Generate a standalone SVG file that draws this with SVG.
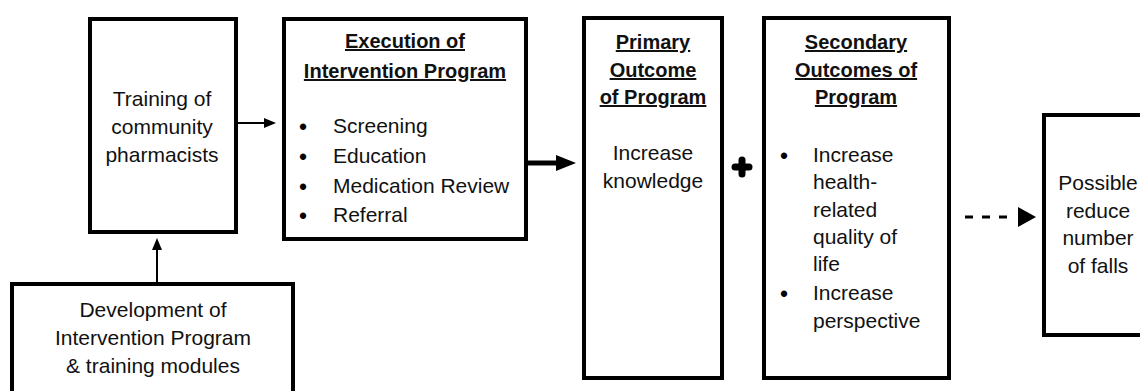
<svg xmlns="http://www.w3.org/2000/svg" width="1140" height="391" viewBox="0 0 1140 391">
  <style>
    .box { fill: #fff; stroke: #000; stroke-width: 4; }
    .t { font-family: "Liberation Sans", Arial, sans-serif; font-size: 21px; fill: #111; }
    .c { text-anchor: middle; }
    .h { font-weight: bold; font-size: 20px; text-decoration: underline; }
    .b { font-family: "Liberation Sans", Arial, sans-serif; font-size: 23px; fill: #000; text-anchor: middle; }
    .ln { stroke: #000; fill: none; }
  </style>
  <defs>
    <marker id="headThin" markerUnits="userSpaceOnUse" markerWidth="12" markerHeight="10" refX="0" refY="5" orient="auto" overflow="visible">
      <path d="M0,0 L12,5 L0,10 z" fill="#000"/>
    </marker>
    <marker id="headThick" markerUnits="userSpaceOnUse" markerWidth="20" markerHeight="16" refX="0" refY="8" orient="auto" overflow="visible">
      <path d="M0,0 L20,8 L0,16 z" fill="#000"/>
    </marker>
    <marker id="headDash" markerUnits="userSpaceOnUse" markerWidth="26" markerHeight="20" refX="0" refY="10" orient="auto" overflow="visible">
      <path d="M8,0 L26,10 L8,20 z" fill="#000"/>
    </marker>
  </defs>
  <rect width="1140" height="391" fill="#fff"/>

  <g id="connectors">
    <line class="ln" x1="238" y1="123" x2="264" y2="123" stroke-width="2" marker-end="url(#headThin)"/>
    <line class="ln" x1="157" y1="282" x2="157" y2="250" stroke-width="2" marker-end="url(#headThin)"/>
    <line class="ln" x1="528" y1="163" x2="556" y2="163" stroke-width="5" marker-end="url(#headThick)"/>
    <line class="ln" x1="965" y1="217" x2="1010" y2="217" stroke-width="3" stroke-dasharray="8 9" marker-end="url(#headDash)"/>
    <g id="plus" stroke="#000" stroke-width="7" stroke-linecap="round">
      <line x1="735" y1="167" x2="749" y2="167"/>
      <line x1="742" y1="160" x2="742" y2="174"/>
    </g>
  </g>

  <g id="training">
    <rect class="box" x="90" y="19" width="146" height="213"/>
    <text class="t c" x="162" y="106">Training of</text>
    <text class="t c" x="162" y="134">community</text>
    <text class="t c" x="162" y="162">pharmacists</text>
  </g>

  <g id="development">
    <rect class="box" x="12" y="284" width="281" height="120"/>
    <text class="t c" x="153" y="317">Development of</text>
    <text class="t c" x="153" y="345">Intervention Program</text>
    <text class="t c" x="153" y="373">&amp; training modules</text>
  </g>

  <g id="execution">
    <rect class="box" x="284" y="19" width="242" height="220"/>
    <text class="t c h" x="405" y="48">Execution of</text>
    <text class="t c h" x="405" y="78">Intervention Program</text>
    <text class="b" x="303" y="135">•</text>
    <text class="t" x="333" y="133">Screening</text>
    <text class="b" x="303" y="165">•</text>
    <text class="t" x="333" y="163">Education</text>
    <text class="b" x="303" y="195">•</text>
    <text class="t" x="333" y="193">Medication Review</text>
    <text class="b" x="303" y="224">•</text>
    <text class="t" x="333" y="222">Referral</text>
  </g>

  <g id="primary">
    <rect class="box" x="584" y="18" width="138" height="360"/>
    <text class="t c h" x="653" y="49">Primary</text>
    <text class="t c h" x="653" y="77">Outcome</text>
    <text class="t c h" x="653" y="104">of Program</text>
    <text class="t c" x="653" y="160">Increase</text>
    <text class="t c" x="653" y="188">knowledge</text>
  </g>

  <g id="secondary">
    <rect class="box" x="764" y="18" width="185" height="360"/>
    <text class="t c h" x="856" y="49">Secondary</text>
    <text class="t c h" x="856" y="77">Outcomes of</text>
    <text class="t c h" x="856" y="104">Program</text>
    <text class="b" x="784" y="164">•</text>
    <text class="t" x="813" y="162">Increase</text>
    <text class="t" x="813" y="189">health-</text>
    <text class="t" x="813" y="217">related</text>
    <text class="t" x="813" y="244">quality of</text>
    <text class="t" x="813" y="271">life</text>
    <text class="b" x="784" y="302">•</text>
    <text class="t" x="813" y="300">Increase</text>
    <text class="t" x="813" y="328">perspective</text>
  </g>

  <g id="falls">
    <rect class="box" x="1044" y="115" width="120" height="220"/>
    <text class="t c" x="1098" y="190">Possible</text>
    <text class="t c" x="1098" y="218">reduce</text>
    <text class="t c" x="1098" y="245">number</text>
    <text class="t c" x="1098" y="273">of falls</text>
  </g>
</svg>
